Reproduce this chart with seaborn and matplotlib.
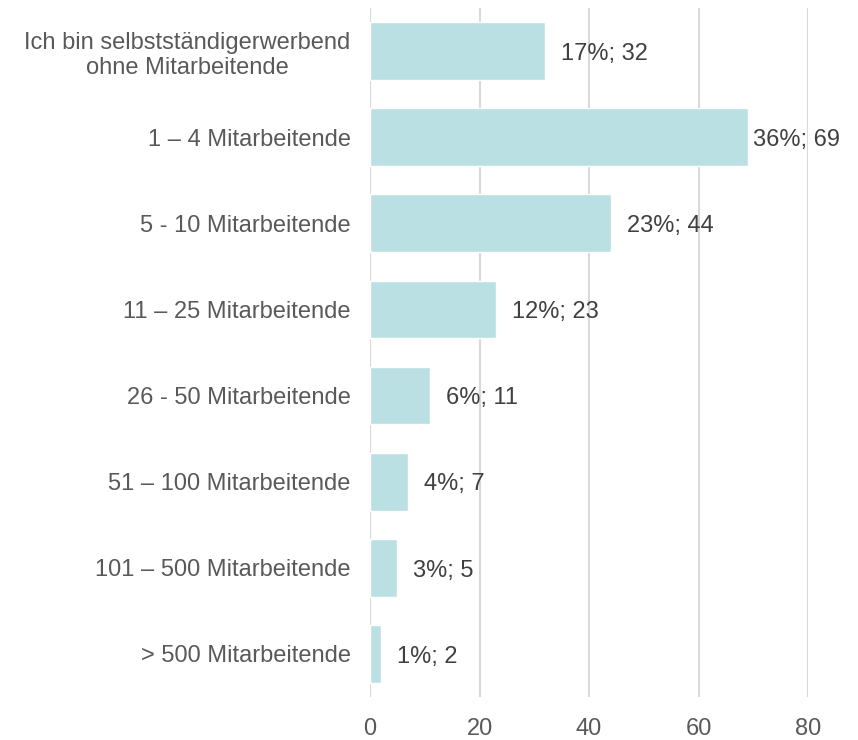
import matplotlib
matplotlib.use("Agg")
import matplotlib.pyplot as plt
import pandas as pd
import seaborn as sns

categories = [
    "Ich bin selbstständigerwerbend\nohne Mitarbeitende",
    "1 – 4 Mitarbeitende",
    "5 - 10 Mitarbeitende",
    "11 – 25 Mitarbeitende",
    "26 - 50 Mitarbeitende",
    "51 – 100 Mitarbeitende",
    "101 – 500 Mitarbeitende",
    "> 500 Mitarbeitende",
]
counts = [32, 69, 44, 23, 11, 7, 5, 2]
percents = [17, 36, 23, 12, 6, 4, 3, 1]
xticks = [0, 20, 40, 60, 80]

df = pd.DataFrame({"Kategorie": categories, "Anzahl": counts})

sns.set_style("white")
plt.rcParams["font.family"] = ["Liberation Sans", "DejaVu Sans"]

fig = plt.figure(figsize=(8.58, 7.4), dpi=100)
ax = fig.add_axes([370 / 858, 1 - 697 / 740, 438 / 858, 689 / 740])

sns.barplot(data=df, y="Kategorie", x="Anzahl", color="#bbe0e3",
            saturation=1, width=0.67, ax=ax, zorder=2)

ax.set_xlim(0, 80)
ax.set_xticks(xticks)
ax.xaxis.grid(True, color="#d9d9d9", linewidth=1.5, zorder=0)
ax.set_axisbelow(True)
for s in ax.spines.values():
    s.set_visible(False)

ax.set_xlabel("")
ax.set_ylabel("")
ax.tick_params(axis="y", length=0, pad=14, labelsize=17, labelcolor="#595959")
ax.tick_params(axis="x", length=0, pad=15, labelsize=17, labelcolor="#595959")
for lbl in ax.get_yticklabels():
    lbl.set_multialignment("center")

texts = [f"{p}%; {c}" for p, c in zip(percents, counts)]
anns = ax.bar_label(ax.containers[0], labels=texts, padding=11.5,
                    fontsize=17, color="#404040")
for a in anns:
    a.set_position((a.get_position()[0], -2))
anns[1].set_position((3.5, -2))

fig.savefig("out.png", dpi=100)
